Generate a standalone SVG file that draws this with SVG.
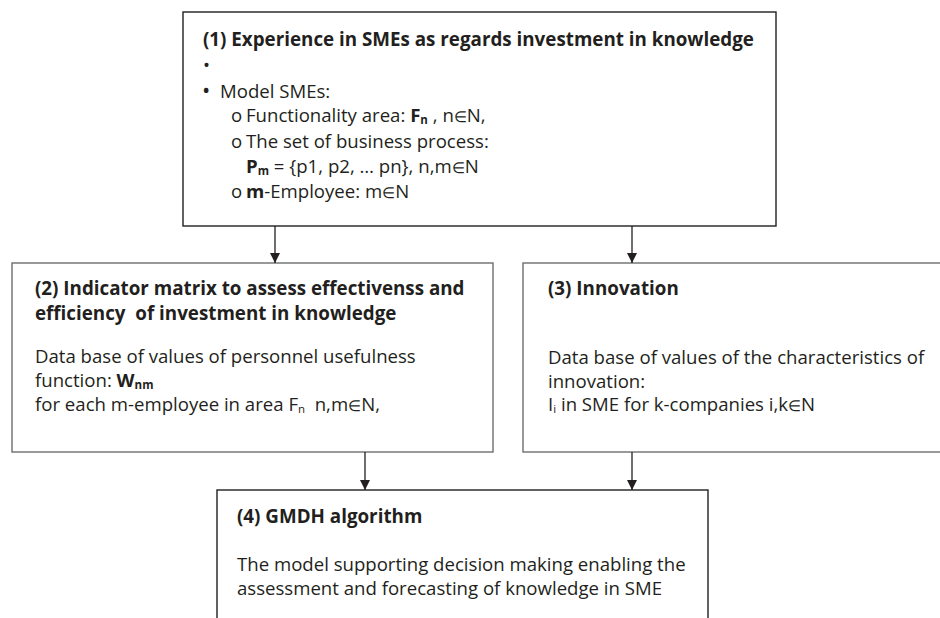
<svg xmlns="http://www.w3.org/2000/svg" width="940" height="618" viewBox="0 0 940 618">
<defs>
<marker id="ah" viewBox="0 0 10 10" refX="10" refY="5" markerWidth="10" markerHeight="10" markerUnits="userSpaceOnUse" orient="auto">
<path d="M0,0 L10,5 L0,10 Z" fill="#231f20"/>
</marker>
<style>
text{font-family:"Open Sans","Noto Sans","Liberation Sans",sans-serif;font-size:18.6px;fill:#231f20}
.t{font-weight:bold;font-size:18.8px}
.b{font-weight:bold}
.s{font-size:11.5px}
.e{font-size:15px}
.big{font-size:22px}
.dark{fill:#fff;stroke:#231f20;stroke-width:1.4}
.grey{fill:#fff;stroke:#6d6e70;stroke-width:1.4}
.c{stroke:#231f20;stroke-width:1.3;fill:none;marker-end:url(#ah)}
</style>
</defs>
<rect width="940" height="618" fill="#fff"/>
<g id="node1">
<rect class="dark" x="183" y="12" width="593" height="214"/>
<text class="t" x="203" y="46">(1) Experience in SMEs as regards investment in knowledge</text>
<text x="203" y="72">•</text>
<text x="202" y="98"><tspan class="big">•</tspan><tspan x="220">Model SMEs:</tspan></text>
<text x="231" y="122">o<tspan x="246">Functionality area: </tspan><tspan class="b">F</tspan><tspan class="b s" dy="2">n</tspan><tspan dy="-2"> , n</tspan><tspan class="e">∈</tspan>N,</text>
<text x="231" y="148">o<tspan x="246">The set of business process:</tspan></text>
<text x="246" y="173"><tspan class="b">P</tspan><tspan class="b s" dy="2">m</tspan><tspan dy="-2"> = {p1, p2, … pn}, n,m</tspan><tspan class="e">∈</tspan>N</text>
<text x="231" y="198">o<tspan x="246"><tspan class="b">m</tspan>-Employee: m</tspan><tspan class="e">∈</tspan>N</text>
</g>
<g id="node2">
<rect class="grey" x="12" y="263" width="481" height="189"/>
<text class="t" x="35" y="295">(2) Indicator matrix to assess effectivenss and</text>
<text class="t" x="35" y="320" xml:space="preserve">efficiency  of investment in knowledge</text>
<text x="35" y="363">Data base of values of personnel usefulness</text>
<text x="35" y="387">function: <tspan class="b">W</tspan><tspan class="b s" dy="2">nm</tspan></text>
<text x="35" y="411" xml:space="preserve">for each m-employee in area F<tspan class="s" dy="2">n</tspan><tspan dy="-2">  n,m</tspan><tspan class="e">∈</tspan>N,</text>
</g>
<g id="node3">
<rect class="grey" x="523" y="263" width="430" height="189"/>
<text class="t" x="548" y="295">(3) Innovation</text>
<text x="548" y="364">Data base of values of the characteristics of</text>
<text x="548" y="388">innovation:</text>
<text x="548" y="411">I<tspan class="s" dy="2">i</tspan><tspan dy="-2"> in SME for k-companies i,k</tspan><tspan class="e">∈</tspan>N</text>
</g>
<g id="node4">
<rect class="dark" x="217" y="490" width="491" height="150"/>
<text class="t" x="237" y="523">(4) GMDH algorithm</text>
<text x="237" y="571">The model supporting decision making enabling the</text>
<text x="237" y="595">assessment and forecasting of knowledge in SME</text>
</g>
<g id="connectors">
<line class="c" x1="275" y1="226" x2="275" y2="263"/>
<line class="c" x1="632" y1="226" x2="632" y2="263"/>
<line class="c" x1="365" y1="452" x2="365" y2="490"/>
<line class="c" x1="632" y1="452" x2="632" y2="490"/>
</g>
</svg>
